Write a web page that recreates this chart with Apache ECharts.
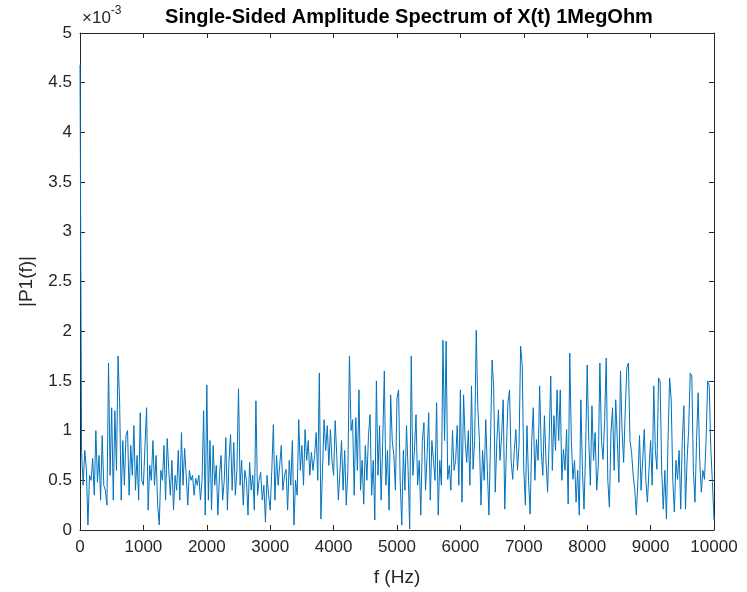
<!DOCTYPE html>
<html><head><meta charset="utf-8">
<script src="https://cdn.jsdelivr.net/npm/echarts@6/dist/echarts.min.js"></script>
<style>html,body{margin:0;padding:0;background:#fff}#c{width:747px;height:592px}</style>
</head><body><div id="c"></div>
<script>
// Frequency grid: 0 .. 10000 Hz, step 25 Hz
const F_STEP = 25;
// |P1(f)| values in units of 1e-3 (chunks of 1000 Hz)
const amp0 = [4.68,0.78,0.45,0.8,0.62,0.05,0.55,0.5,0.72,0.35,1.0,0.48,0.75,0.3,0.95,0.45,0.4,0.25,1.68,0.55,1.23,0.3,1.2,0.6,1.75,1.28,0.3,0.9,0.45,0.95,1.0,0.35,0.85,0.55,1.05,0.4,0.75,0.3,1.18,0.5];
const amp1 = [0.45,0.85,1.23,0.2,0.65,0.5,0.9,0.45,0.75,0.25,0.05,0.6,0.5,0.85,0.3,0.92,0.6,0.35,0.7,0.2,0.55,0.4,0.8,0.3,0.98,0.45,0.82,0.55,0.25,0.6,0.5,0.55,0.35,0.52,0.45,0.55,0.3,0.5,1.2,0.15];
const amp2 = [1.46,0.3,0.9,0.2,0.85,0.45,0.65,0.15,0.55,0.75,0.3,0.5,0.93,0.2,0.7,0.96,0.4,0.88,0.35,0.6,1.42,0.45,0.7,0.25,0.6,0.5,0.15,0.68,0.4,0.55,0.2,1.3,0.35,0.5,0.58,0.3,0.45,0.08,0.55,0.35];
const amp3 = [0.2,0.6,1.06,0.3,0.75,0.45,0.65,0.85,0.4,0.55,0.61,0.2,0.7,0.45,0.9,0.05,0.5,0.35,1.11,0.6,0.85,0.45,1.01,0.7,0.9,0.55,0.78,0.6,0.75,0.98,0.5,1.58,0.11,0.6,1.11,0.8,1.05,0.65,1.01,0.7];
const amp4 = [0.55,1.1,0.75,0.3,0.58,0.9,0.4,0.8,0.25,0.6,1.75,1.0,1.11,0.35,1.13,0.6,1.41,0.4,0.7,0.26,0.85,0.5,0.95,1.16,0.35,0.7,0.1,1.5,0.55,1.05,0.3,0.9,1.6,0.45,0.8,0.2,1.36,0.9,0.75,0.4];
const amp5 = [1.33,1.41,0.5,0.05,0.8,0.4,1.05,0.6,0.01,1.75,0.55,0.8,1.16,0.45,0.7,0.15,0.9,1.08,0.4,0.75,1.18,0.3,0.9,0.88,0.5,1.28,0.15,0.7,0.45,1.91,0.9,1.9,0.51,0.65,0.4,1.0,0.6,0.7,1.05,0.45];
const amp6 = [1.41,0.28,1.36,0.9,0.68,1.0,0.45,1.45,0.61,0.9,2.01,1.23,0.9,0.25,0.8,0.5,1.11,0.6,0.15,0.9,1.71,1.43,0.38,0.9,1.21,0.7,0.95,1.31,0.21,0.8,1.28,1.41,0.7,0.51,0.8,1.01,0.6,0.85,1.85,1.66];
const amp7 = [0.6,0.25,1.05,0.5,0.16,0.9,1.23,0.5,0.91,0.7,1.45,0.8,0.55,1.15,0.7,0.38,0.9,1.55,0.6,1.15,0.8,1.41,0.9,1.41,0.5,0.81,0.6,1.01,0.26,1.78,0.9,0.51,0.7,0.28,0.6,0.15,1.31,0.6,0.21,0.8];
const amp8 = [1.66,0.9,0.45,1.25,0.7,0.98,0.4,0.65,1.68,0.9,0.71,1.1,1.73,0.5,0.23,0.98,1.23,0.6,1.31,0.9,0.48,1.6,1.0,0.68,1.2,1.63,1.68,0.9,0.78,0.55,0.41,0.15,0.5,0.95,0.4,0.7,1.01,0.5,0.28,0.61];
const amp9 = [0.9,0.45,1.45,0.8,0.61,1.53,1.5,0.6,0.21,0.6,0.11,0.9,1.53,1.31,0.5,0.18,0.7,0.51,0.8,0.21,0.9,1.25,0.21,0.7,1.0,1.58,1.55,0.6,0.28,0.9,1.38,0.7,0.38,0.6,0.51,0.9,1.5,1.45,0.81,0.48,0.1];
const xTicks = [0,1000,2000,3000,4000,5000,6000,7000,8000,9000,10000];
const yTicks = [0,0.5,1,1.5,2,2.5,3,3.5,4,4.5,5];
const titleText = 'Single-Sided Amplitude Spectrum of X(t) 1MegOhm';
const xName = 'f (Hz)';
const yName = '|P1(f)|';

const amps = [].concat(amp0,amp1,amp2,amp3,amp4,amp5,amp6,amp7,amp8,amp9);
const seriesData = amps.map((v,i)=>[i*F_STEP, v]);

const AX = '#262626';
const FONT = '"Liberation Sans", Arial, Helvetica, sans-serif';
const chart = echarts.init(document.getElementById('c'), null, {renderer:'canvas'});
const baseX = {
  type:'value', min:xTicks[0], max:xTicks[xTicks.length-1], interval:1000,
  axisLine:{show:true, onZero:false, lineStyle:{color:AX, width:1}},
  axisTick:{show:true, inside:true, length:5, lineStyle:{color:AX}},
  splitLine:{show:false}
};
const baseY = {
  type:'value', min:yTicks[0], max:yTicks[yTicks.length-1], interval:0.5,
  axisLine:{show:true, onZero:false, lineStyle:{color:AX, width:1}},
  axisTick:{show:true, inside:true, length:5, lineStyle:{color:AX}},
  splitLine:{show:false}
};
chart.setOption({
  animation:false,
  backgroundColor:'#fff',
  grid:{left:80, right:33, top:33, bottom:59, containLabel:false},
  title:{
    text:titleText, left:404, top:2, textAlign:'center',
    textStyle:{fontFamily:FONT, fontSize:20, fontWeight:'bold', color:'#000'}
  },
  graphic:[
    {type:'text', left:82, top:5, style:{
      text:'{a|×10}{b|-3}',
      rich:{
        a:{fontFamily:FONT, fontSize:17, fill:AX, verticalAlign:'bottom', lineHeight:22},
        b:{fontFamily:FONT, fontSize:12, fill:AX, verticalAlign:'top', lineHeight:22, padding:[0,0,10,0]}
      }
    }}
  ],
  xAxis:[
    Object.assign({}, baseX, {
      position:'bottom',
      name:xName, nameLocation:'middle', nameGap:38,
      nameTextStyle:{fontFamily:FONT, fontSize:19, color:AX},
      axisLabel:{show:true, margin:9, fontFamily:FONT, fontSize:17, color:AX,
        formatter:v=>String(v)}
    }),
    Object.assign({}, baseX, {position:'top', axisLabel:{show:false}})
  ],
  yAxis:[
    Object.assign({}, baseY, {
      position:'left',
      name:yName, nameLocation:'middle', nameGap:44, nameRotate:90,
      nameTextStyle:{fontFamily:FONT, fontSize:19, color:AX},
      axisLabel:{show:true, margin:8, fontFamily:FONT, fontSize:17, color:AX,
        formatter:v=>String(v)}
    }),
    Object.assign({}, baseY, {position:'right', axisLabel:{show:false}})
  ],
  series:[{
    type:'line', data:seriesData, xAxisIndex:0, yAxisIndex:0,
    showSymbol:false, symbol:'none', smooth:false,
    lineStyle:{color:'#0072BD', width:1},
    clip:true
  }]
});
</script></body></html>
